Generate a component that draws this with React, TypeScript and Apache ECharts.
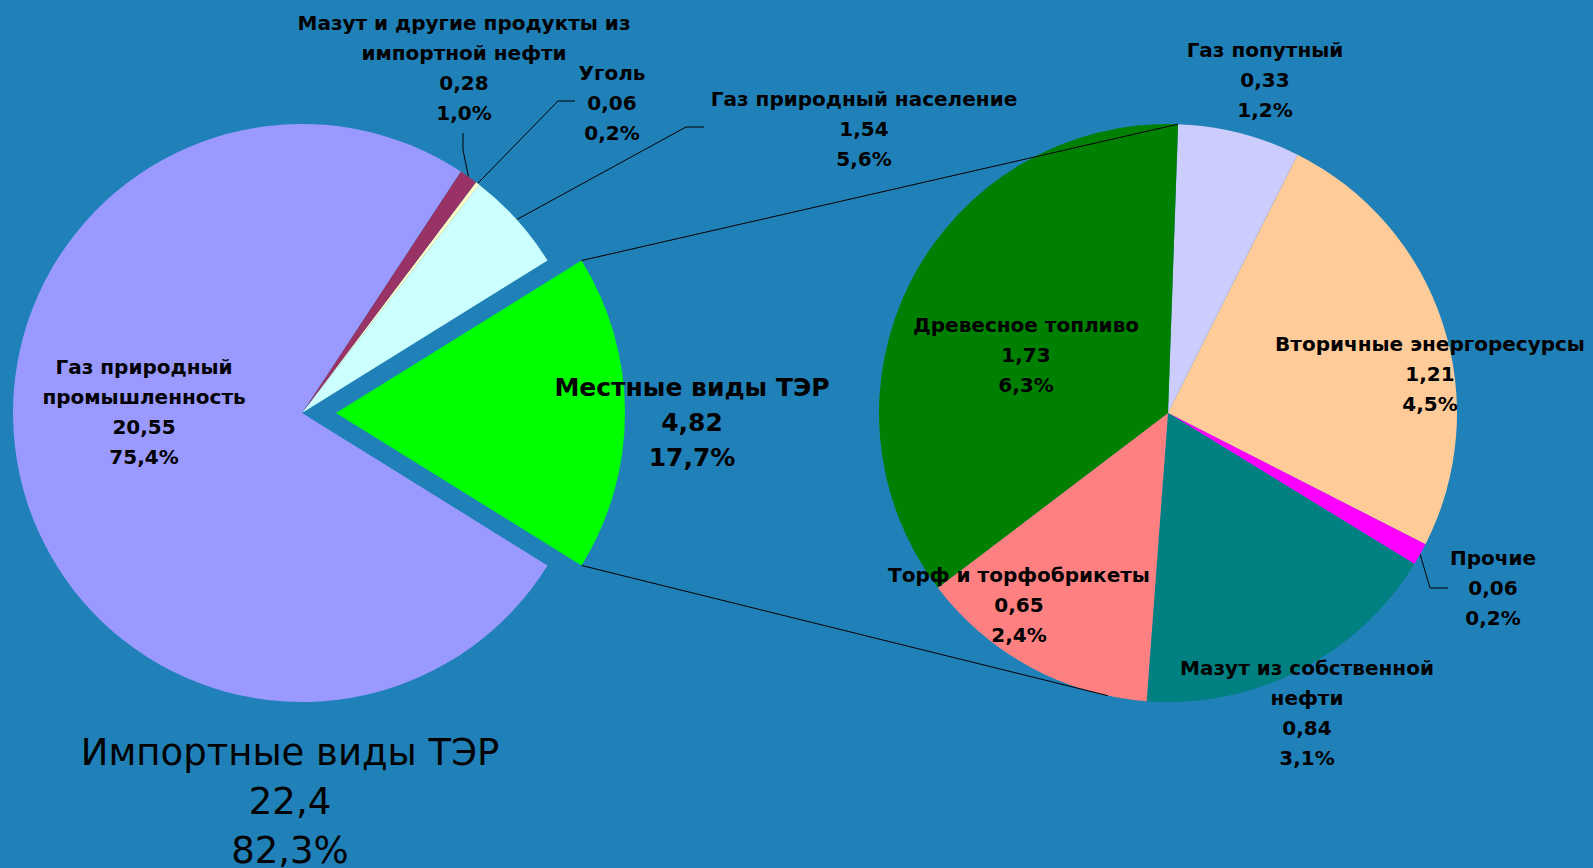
import React, { useEffect, useRef } from "react";
import * as echarts from "echarts";

// ---- Data ----
const importLabels = [
  "Местные виды ТЭР",
  "Газ природный население",
  "Уголь",
  "Мазут и другие продукты из\nимпортной нефти",
  "Газ природный\nпромышленность",
];
const importValues = [4.82, 1.54, 0.06, 0.28, 20.55];
const importPercents = ["17,7%", "5,6%", "0,2%", "1,0%", "75,4%"];
const importColors = ["#00FF00", "#CCFFFF", "#FFFFCC", "#993366", "#9999FF"];

const localLabels = [
  "Газ попутный",
  "Вторичные энергоресурсы",
  "Прочие",
  "Мазут из собственной\nнефти",
  "Торф и торфобрикеты",
  "Древесное топливо",
];
const localValues = [0.33, 1.21, 0.06, 0.84, 0.65, 1.73];
const localPercents = ["1,2%", "4,5%", "0,2%", "3,1%", "2,4%", "6,3%"];
const localColors = ["#CCCCFF", "#FFCC99", "#FF00FF", "#008080", "#FF8080", "#008000"];

const importTotalText = ["Импортные виды ТЭР", "22,4", "82,3%"];

// ---- Layout (positions, not data) ----
const W = 1593;
const H = 868;
const L = { cx: 302, cy: 413, r: 289, explode: 34 };
const R = { cx: 1168, cy: 413, r: 289, startAngle: 88 };
const EXPLODED = 0; // index of the exploded slice
const leftLabelPos = [
  [692, 422],
  [864, 129],
  [612, 103],
  [464, 68],
  [144, 412],
];
const leftLabelLine: (number[] | null)[] = [null, [686, 127, 704, 127], [558, 101, 575, 101], [463, 150, 463, 133], null];
const rightLabelPos = [
  [1265, 80],
  [1430, 374],
  [1493, 588],
  [1307, 713],
  [1019, 605],
  [1026, 355],
];
const rightLabelLine: (number[] | null)[] = [null, null, [1430, 588, 1448, 588], null, null, null];

const fmt = (v: number) => v.toFixed(2).replace(".", ",");

export default function App() {
  const ref = useRef<HTMLDivElement>(null);
  useEffect(() => {
    if (!ref.current) return;
    const chart = echarts.init(ref.current, undefined, { renderer: "svg" });

    const total = importValues.reduce((a, b) => a + b, 0);
    const greenAngle = (360 * importValues[EXPLODED]) / total;
    const half = (greenAngle / 2) * (Math.PI / 180);
    const vx = L.cx + L.explode;
    const upper = [vx + L.r * Math.cos(half), L.cy - L.r * Math.sin(half)];
    const lower = [vx + L.r * Math.cos(half), L.cy + L.r * Math.sin(half)];
    const bear = (deg: number) => {
      const a = (deg * Math.PI) / 180;
      return [R.cx + R.r * Math.sin(a), R.cy - R.r * Math.cos(a)];
    };
    const rTop = bear(90 - R.startAngle);
    const rBottom = bear(192);

    const baseLabel = {
      color: "#000",
      fontFamily: "DejaVu Sans",
      fontWeight: "bold" as const,
      fontSize: 20,
      lineHeight: 30,
    };

    const makeLayout = (pos: number[][], lines: (number[] | null)[]) => (params: any) => {
      const i = params.dataIndex;
      const res: any = { x: pos[i][0], y: pos[i][1], align: "center", verticalAlign: "middle" };
      const ln = lines[i];
      if (ln && params.labelLinePoints) {
        const p0 = params.labelLinePoints[0];
        res.labelLinePoints = [p0, [ln[0], ln[1]], [ln[2], ln[3]]];
      }
      return res;
    };

    const importFormatter = (p: any) =>
      `${importLabels[p.dataIndex]}\n${fmt(importValues[p.dataIndex])}\n${importPercents[p.dataIndex]}`;

    chart.setOption({
      animation: false,
      backgroundColor: "#2080B8",
      series: [
        // main left pie (exploded slice left empty)
        {
          type: "pie",
          center: [L.cx, L.cy],
          radius: [0, L.r],
          startAngle: -greenAngle / 2,
          clockwise: false,
          avoidLabelOverlap: false,
          emphasis: { disabled: true },
          label: { ...baseLabel, position: "outside", formatter: importFormatter },
          labelLine: { show: false, lineStyle: { color: "#000", width: 1 } },
          labelLayout: makeLayout(leftLabelPos, leftLabelLine),
          data: importValues.map((v, i) => ({
            value: v,
            name: importLabels[i],
            itemStyle: { color: i === EXPLODED ? "rgba(0,0,0,0)" : importColors[i] },
            labelLine: { show: !!leftLabelLine[i], lineStyle: { color: "#000", width: 1 } },
            label: i === EXPLODED ? { show: false } : {},
          })),
        },
        // exploded slice, drawn with shifted centre
        {
          type: "pie",
          center: [L.cx + L.explode, L.cy],
          radius: [0, L.r],
          startAngle: -greenAngle / 2,
          clockwise: false,
          silent: true,
          avoidLabelOverlap: false,
          emphasis: { disabled: true },
          label: { ...baseLabel, fontSize: 25, lineHeight: 35, position: "outside", formatter: importFormatter },
          labelLine: { show: false },
          labelLayout: makeLayout(leftLabelPos, leftLabelLine),
          data: importValues.map((v, i) => ({
            value: v,
            name: importLabels[i],
            itemStyle: { color: i === EXPLODED ? importColors[i] : "rgba(0,0,0,0)" },
            label: { show: i === EXPLODED },
          })),
        },
        {
          type: "pie",
          center: [R.cx, R.cy],
          radius: [0, R.r],
          startAngle: R.startAngle,
          clockwise: true,
          avoidLabelOverlap: false,
          emphasis: { disabled: true },
          label: {
            ...baseLabel,
            position: "outside",
            formatter: (p: any) =>
              `${localLabels[p.dataIndex]}\n${fmt(localValues[p.dataIndex])}\n${localPercents[p.dataIndex]}`,
          },
          labelLine: { show: false, lineStyle: { color: "#000", width: 1 } },
          labelLayout: makeLayout(rightLabelPos, rightLabelLine),
          data: localValues.map((v, i) => ({
            value: v,
            name: localLabels[i],
            itemStyle: { color: localColors[i] },
            labelLine: { show: !!rightLabelLine[i], lineStyle: { color: "#000", width: 1 } },
          })),
        },
      ],
      graphic: [
        {
          type: "line",
          shape: { x1: upper[0], y1: upper[1], x2: rTop[0], y2: rTop[1] },
          style: { stroke: "#000", lineWidth: 1 },
          z: 10,
        },
        {
          type: "line",
          shape: { x1: lower[0], y1: lower[1], x2: rBottom[0], y2: rBottom[1] },
          style: { stroke: "#000", lineWidth: 1 },
          z: 10,
        },
        {
          type: "text",
          x: 290,
          y: 728,
          style: {
            text: importTotalText.join("\n"),
            fill: "#000",
            font: "37px 'DejaVu Sans'",
            textAlign: "center",
            textVerticalAlign: "top",
            lineHeight: 49,
          },
          z: 10,
        },
      ],
    });
    return () => chart.dispose();
  }, []);
  return <div ref={ref} style={{ position: "fixed", left: 0, top: 0, width: W, height: H }} />;
}
